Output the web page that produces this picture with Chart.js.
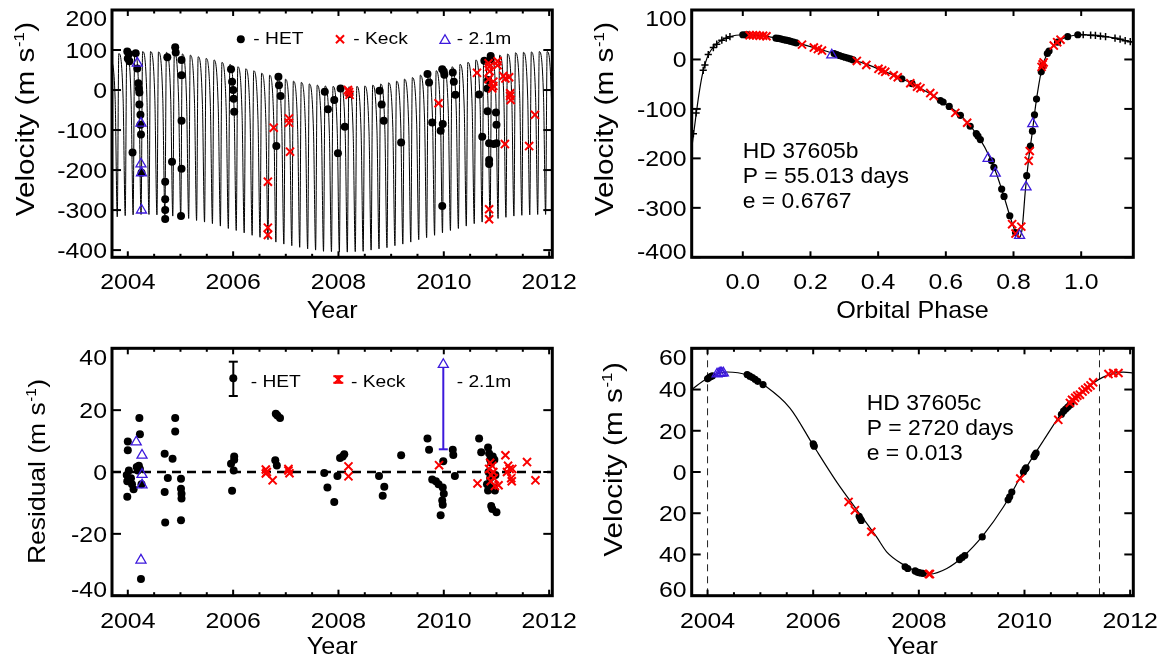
<!DOCTYPE html>
<html><head><meta charset="utf-8">
<script src="https://cdn.jsdelivr.net/npm/chart.js@4.4.1/dist/chart.umd.min.js"></script>
<style>
html,body{margin:0;padding:0;background:#fff;}
#wrap{position:relative;width:1163px;height:660px;background:#fff;overflow:hidden;}
canvas{position:absolute;}
</style></head><body>
<div id="wrap">
<canvas id="c1" width="581" height="330" style="left:0;top:0;width:581px;height:330px"></canvas>
<canvas id="c2" width="582" height="330" style="left:581px;top:0;width:582px;height:330px"></canvas>
<canvas id="c3" width="581" height="330" style="left:0;top:330px;width:581px;height:330px"></canvas>
<canvas id="c4" width="582" height="330" style="left:581px;top:330px;width:582px;height:330px"></canvas>
</div>
<script>
// ---------------- tick labels ----------------
const yearTicks = [2004, 2006, 2008, 2010, 2012];
const yearMinorTicks = [2004.5, 2005, 2005.5, 2006.5, 2007, 2007.5, 2008.5, 2009, 2009.5, 2010.5, 2011, 2011.5];
const phaseTicks = [0, 0.2, 0.4, 0.6, 0.8, 1.0];
const velTicksTL = [-400, -300, -200, -100, 0, 100, 200];
const velTicksTR = [-400, -300, -200, -100, 0, 100];
const residTicks = [-40, -20, 0, 20, 40];
const velTicksBR = [-60, -40, -20, 0, 20, 40, 60];

// ---------------- panel 1: velocity vs year ----------------
const p1ModelYears = [2003.678, 2003.760,
2003.800, 2003.829, 2003.911, 2003.951, 2003.980, 2004.062, 2004.101, 2004.130, 2004.212,
2004.252, 2004.281, 2004.363, 2004.402, 2004.431, 2004.513, 2004.553, 2004.582, 2004.664,
2004.704, 2004.733, 2004.815, 2004.854, 2004.883, 2004.965, 2005.005, 2005.034, 2005.116,
2005.156, 2005.185, 2005.267, 2005.306, 2005.335, 2005.417, 2005.457, 2005.486, 2005.568,
2005.607, 2005.636, 2005.718, 2005.758, 2005.787, 2005.869, 2005.909, 2005.938, 2006.020,
2006.059, 2006.088, 2006.170, 2006.210, 2006.239, 2006.321, 2006.361, 2006.390, 2006.472,
2006.511, 2006.540, 2006.622, 2006.662, 2006.691, 2006.773, 2006.812, 2006.841, 2006.923,
2006.963, 2006.992, 2007.074, 2007.114, 2007.143, 2007.225, 2007.264, 2007.293, 2007.375,
2007.415, 2007.444, 2007.526, 2007.566, 2007.595, 2007.677, 2007.716, 2007.745, 2007.827,
2007.867, 2007.896, 2007.978, 2008.017, 2008.046, 2008.128, 2008.168, 2008.197, 2008.279,
2008.319, 2008.348, 2008.430, 2008.469, 2008.498, 2008.580, 2008.620, 2008.649, 2008.731,
2008.770, 2008.799, 2008.881, 2008.921, 2008.950, 2009.032, 2009.072, 2009.101, 2009.183,
2009.222, 2009.251, 2009.333, 2009.373, 2009.402, 2009.484, 2009.524, 2009.553, 2009.635,
2009.674, 2009.703, 2009.785, 2009.825, 2009.854, 2009.936, 2009.975, 2010.004, 2010.086,
2010.126, 2010.155, 2010.237, 2010.277, 2010.306, 2010.388, 2010.427, 2010.456, 2010.538,
2010.578, 2010.607, 2010.689, 2010.728, 2010.757, 2010.839, 2010.879, 2010.908, 2010.990,
2011.030, 2011.059, 2011.141, 2011.180, 2011.209, 2011.291, 2011.331, 2011.360, 2011.442,
2011.482, 2011.511, 2011.593, 2011.632, 2011.661, 2011.743, 2011.783, 2011.812, 2011.894,
2011.933, 2011.962, 2012.044, 2012.084];
const p1ModelVel = [89, -24,
-317, 91, -22, -314, 93, -20, -312, 95, -19,
-311, 96, -19, -311, 96, -20, -312, 95, -21,
-313, 94, -23, -315, 93, -25, -318, 90, -28,
-321, 87, -33, -326, 83, -36, -330, 79, -41,
-334, 75, -47, -340, 69, -52, -346, 64, -58,
-351, 58, -63, -357, 53, -69, -363, 48, -74,
-368, 42, -80, -374, 37, -85, -380, 31, -90,
-385, 27, -94, -389, 22, -98, -393, 19, -102,
-397, 15, -104, -400, 12, -107, -403, 10, -108,
-404, 9, -109, -405, 8, -109, -405, 8, -108,
-404, 9, -107, -403, 10, -104, -400, 12, -102,
-397, 15, -99, -394, 18, -94, -389, 22, -90,
-385, 27, -85, -380, 31, -80, -374, 37, -75,
-369, 41, -69, -363, 48, -63, -357, 53, -58,
-351, 58, -52, -346, 64, -47, -340, 69, -41,
-334, 75, -36, -330, 79, -33, -326, 83, -28,
-321, 87, -25, -318, 90, -23, -315, 93, -21,
-313, 94, -20, -312, 95, -19, -311, 96, -19,
-311, 96, -20, -312];

const p1HetYears = [2003.99, 2004.02, 2004.00, 2004.03, 2004.15, 2004.18, 2004.20, 2004.21, 2004.22, 2004.22, 2004.24, 2004.24, 2004.25, 2004.09, 2004.26,
  2004.71, 2004.71, 2004.71, 2004.71, 2004.75, 2004.84, 2004.90, 2004.91, 2005.02, 2005.02, 2005.02, 2005.02, 2005.01,
  2005.96, 2005.98, 2006.00, 2006.01, 2006.02, 2006.86, 2006.87, 2006.90, 2006.82,
  2007.74, 2007.80, 2007.92, 2008.04, 2007.99, 2008.12, 2008.21, 2008.78, 2008.82, 2008.86, 2009.19,
  2009.69, 2009.72, 2009.78, 2009.97, 2010.00, 2010.01, 2009.98, 2009.94, 2009.97, 2010.17, 2010.19, 2010.22,
  2010.67, 2010.73, 2010.77, 2010.83, 2010.83, 2010.86, 2010.86, 2010.86, 2010.89, 2010.89, 2010.99, 2011.00, 2011.00, 2010.95, 2010.84];
const p1HetVel = [96, 90, 79, 72, 92, 54, 17, 3, -6, -36, -62, -87, -111, -156, -207,
  -229, -273, -300, -322, 82, -179, 107, 94, 75, 37, -77, -197, -315,
  52, 21, 0, -22, -54, 33, 12, -15, -140,
  -4, -48, -25, 4, -158, -92, -10, -2, -36, -77, -131,
  40, 19, -81, 52, 46, 38, -85, -102, -290, 44, 21, -12,
  -11, -117, 73, 4, -53, -133, -175, -185, 85, 77, -56, -87, -133, -135, 25];
const p1KeckYears = [2006.66, 2006.66, 2006.66, 2006.77, 2007.06, 2007.06, 2007.08, 2008.18, 2008.20, 2008.21, 2009.90,
  2010.63, 2010.85, 2010.86, 2010.87, 2010.85, 2010.94, 2010.94, 2010.92, 2011.02, 2011.02,
  2011.13, 2011.17, 2011.24, 2011.26, 2011.26, 2011.27, 2011.16, 2011.62, 2011.73, 2010.86, 2010.86];
const p1KeckVel = [-229, -344, -362, -94, -71, -82, -154, 0, -5, -12, -33,
  43, 67, 58, 47, 27, 21, 10, 4, 72, 62,
  35, 29, 32, -8, -15, -25, -135, -140, -62, -298, -323];
const p1TriYears = [2004.18, 2004.25, 2004.25, 2004.26, 2004.26];
const p1TriVel = [67, -83, -185, -207, -300];

// ---------------- panel 2: velocity vs orbital phase ----------------
const p2ModelPhase = [-0.150, -0.140, -0.130, -0.120, -0.110, -0.100, -0.080, -0.060, -0.040, -0.020, 0.000, 0.050, 0.100, 0.150, 0.200, 0.250,
  0.300, 0.350, 0.400, 0.450, 0.500, 0.550, 0.600, 0.650, 0.700, 0.730, 0.750, 0.770, 0.790, 0.805, 0.815, 0.825, 0.835, 0.845,
  0.855, 0.865, 0.875, 0.885, 0.900, 0.920, 0.940, 0.960, 0.980, 1.000, 1.050, 1.100, 1.150];
const p2ModelVel = [-175, -122, -72, -32, -6, 12, 30, 40, 46, 49, 50, 48, 43, 35, 26, 16,
  5, -6, -19, -33, -49, -68, -90, -117, -160, -198, -232, -273, -318, -348, -360, -345, -265, -200,
  -150, -95, -50, -15, 12, 30, 40, 46, 49, 50, 48, 43, 35];
const p2HetPhase = [0.000, 0.008, 0.015, 0.098, 0.105, 0.112, 0.120, 0.128, 0.135, 0.142, 0.150, 0.158, 0.270, 0.278, 0.286, 0.294,
  0.302, 0.310, 0.318, 0.326, 0.470, 0.500, 0.584, 0.592, 0.610, 0.643, 0.672, 0.690, 0.695, 0.702, 0.735, 0.742, 0.765, 0.772,
  0.789, 0.806, 0.839, 0.850, 0.856, 0.862, 0.868, 0.882, 0.886, 0.900, 0.905, 0.930, 0.960, 0.990];
const p2HetVel = [50, 50, 50, 43, 42.5, 41.5, 40, 39, 38, 36.5, 35, 33.5, 12, 10, 8, 6,
  4.5, 3, 1, -1, -39, -49, -83, -86, -95, -113, -135, -150, -155, -162, -205, -218, -262, -277,
  -316, -350, -235, -175, -145, -112, -80, -25, -13, 12, 17, 35, 46, 50];
const p2KeckPhase = [0.020, 0.030, 0.040, 0.050, 0.060, 0.070, 0.175, 0.210, 0.222, 0.234, 0.337, 0.365, 0.401, 0.412, 0.421, 0.446, 0.458,
  0.495, 0.515, 0.525, 0.554, 0.564, 0.628, 0.663, 0.796, 0.806, 0.823, 0.845, 0.848, 0.883, 0.886, 0.889, 0.919, 0.929, 0.939];
const p2KeckVel = [49, 49, 49, 48, 48, 47, 30, 24, 21, 18, -3, -11, -19, -22, -25, -32, -36,
  -48, -55, -58, -68, -74, -108, -128, -333, -352, -338, -205, -185, -15, -10, -6, 28, 35, 40];
const p2TriPhase = [0.263, 0.725, 0.746, 0.818, 0.837, 0.857];
const p2TriVel = [9, -200, -230, -356, -258, -130];
const p2WrapPhase = [-0.146, -0.138, -0.117, -0.112, -0.102, -0.087, -0.077, -0.062, -0.049, -0.038,
  1.006, 1.028, 1.042, 1.057, 1.072, 1.100, 1.115, 1.130, 1.145];
const p2WrapVel = [-150, -108, -22, -11, 10, 24, 31, 39, 43, 46,
  50, 49, 48.5, 47, 46, 43, 41, 38, 36];

// ---------------- panel 3: residuals vs year ----------------
const p3HetYears = [2004.00, 2004.00, 2004.02, 2003.98, 2003.99, 2003.99, 2004.06, 2004.08, 2004.11, 2004.17, 2004.19, 2004.21, 2004.23,
  2004.22, 2004.23, 2004.25, 2004.26, 2004.70, 2004.76, 2004.70, 2004.71, 2004.85, 2004.90, 2004.90, 2005.01, 2005.01, 2005.02, 2005.02, 2005.01,
  2005.96, 2006.02, 2006.02, 2006.01, 2005.98, 2006.81, 2006.84, 2006.89, 2006.80, 2006.83,
  2007.73, 2007.79, 2007.92, 2007.98, 2008.03, 2008.11, 2008.08, 2008.77, 2008.87, 2008.84, 2009.19,
  2009.69, 2009.72, 2009.78, 2009.85, 2009.90, 2009.99, 2009.98, 2010.00, 2009.97, 2009.98, 2009.94, 2010.17, 2010.18, 2010.21,
  2010.67, 2010.71, 2010.84, 2010.86, 2010.88, 2010.90, 2010.93, 2010.96, 2010.82, 2010.84, 2010.86, 2010.95, 2010.97,
  2010.90, 2010.92, 2011.00, 2010.85, 2010.88, 2010.98];
const p3HetRes = [9.9, 7, 0.5, -1, -3, -8, -2, -4, -5.6, 1.6, 0.5, 2, 1,
  17.5, 12.2, -34.6, -4, 5.9, -1.9, -6.5, -16.3, 4.3, 17.5, 13.1, -2.2, -5.4, -7, -8.6, -15.6,
  2.7, 5, 4, 0.5, -6.1, 18.8, 18.3, 17.5, 3.8, 2.1,
  -0.3, -5, -9.7, -1.3, 4.5, 5.7, 5, -1.3, -4.8, -7.7, 5.4,
  10.8, 7.2, -2.4, -3, -4, 3.5, -5, -7, -9.2, -10.6, -14, 7.2, 5.5, -1.3,
  10.8, 6.4, 7.9, 6, 4, 3, 5, 4, -4, -6, -5, -5, -6,
  -11, -12, -13, 0, -2, -1];
const p3KeckYears = [2006.62, 2006.64, 2006.62, 2006.75, 2007.05, 2007.07, 2007.05, 2008.19, 2008.19, 2009.91, 2010.64,
  2010.86, 2010.88, 2010.90, 2010.92, 2010.89, 2010.94, 2010.95, 2010.97, 2011.04, 2011.17, 2011.20, 2011.22, 2011.25,
  2011.28, 2011.30, 2011.29, 2011.58, 2011.74];
const p3KeckRes = [0.8, 0, -0.5, -2.7, 0.5, -0.4, 1, 1.8, -1.4, 2.2, -3.7,
  1, 3, -1, 2, -3, 0, -2, -4.5, -4.3, 5.4, 0, 2, 1,
  -2, 1, -3, 3.2, -2.7];
const p3TriYears = [2004.16, 2004.27, 2004.27, 2004.27, 2004.25];
const p3TriRes = [9.7, 5.4, -0.8, -4.2, -28.5];

// ---------------- panel 4: outer planet velocity vs year ----------------
const p4ModelYears = [2003.70, 2004.00, 2004.37, 2004.75, 2005.05, 2005.56, 2006.00, 2006.45, 2006.83, 2007.20, 2007.39, 2007.71,
  2008.02, 2008.21, 2008.53, 2008.84, 2009.22, 2009.60, 2009.98, 2010.36, 2010.74, 2011.12, 2011.49, 2011.87, 2012.06];
const p4ModelVel = [40, 45.5, 48.5, 47, 42.5, 31, 13, -5, -18.5, -31.5, -38.7, -45,
  -48.7, -49.5, -46.8, -41, -30.6, -17, 0, 15.3, 29.8, 39.5, 46, 48.4, 48];
const p4HetYears = [2004.00, 2004.03, 2004.06, 2004.09, 2004.75, 2004.80, 2004.85, 2004.90, 2004.95, 2005.05,
  2006.00, 2006.01, 2006.02, 2006.87, 2006.89, 2006.91, 2007.74, 2007.79, 2007.93, 2007.97, 2008.00, 2008.04, 2008.08,
  2008.77, 2008.82, 2008.87, 2009.20, 2009.69, 2009.72, 2009.76, 2009.98, 2010.01, 2010.03, 2010.18, 2010.20, 2010.22,
  2010.70, 2010.74, 2010.78, 2010.82, 2010.86, 2010.88];
const p4HetVel = [45.2, 45.8, 46.3, 46.6, 47.3, 46.5, 45.8, 45, 44, 42.4,
  13.7, 13, 12.5, -21.5, -22.6, -23.5, -46, -46.8, -48, -48.5, -48.8, -49, -49.2,
  -42.5, -41.5, -40.5, -31.5, -13.5, -12, -9.7, 0, 1.3, 2, 7.5, 8.5, 9.2,
  28, 29.5, 30.5, 31.5, 32.5, 33];
const p4KeckYears = [2006.67, 2006.79, 2007.10, 2008.19, 2008.21, 2009.92, 2010.64, 2010.86, 2010.90, 2010.93, 2010.96, 2011.00,
  2011.05, 2011.10, 2011.15, 2011.20, 2011.25, 2011.30, 2011.59, 2011.68, 2011.78];
const p4KeckVel = [-14.5, -18.5, -29, -49.5, -49.5, -3.2, 25.3, 33.5, 35, 34.5, 36, 37,
  37.5, 39, 40, 41, 42, 43.5, 47.5, 48, 48];
const p4TriYears = [2004.18, 2004.22, 2004.25, 2004.27, 2004.30];
const p4TriVel = [47.5, 47.8, 48, 48, 48];
const p4MarkerYears = [2004.0, 2011.42];

// ---------------- styling ----------------
const FONT = "'Liberation Sans', Arial, Helvetica, sans-serif";
const RED = 'rgb(250,0,0)';
const BLUE = 'rgb(60,25,220)';

function pts(xs, ys) {
  const n = Math.min(xs.length, ys.length), out = [];
  for (let i = 0; i < n; i++) out.push({ x: xs[i], y: ys[i] });
  return out;
}
function dsCurve(data, w) {
  return { data, showLine: true, pointRadius: 0, borderColor: '#000', borderWidth: w || 1.2, cubicInterpolationMode: 'monotone', fill: false, order: 10 };
}
function dsHet(data, r) {
  return { data, showLine: false, pointStyle: 'circle', pointRadius: r, pointBackgroundColor: '#000', pointBorderColor: '#000', pointBorderWidth: 0, order: 3 };
}
function dsKeck(data) {
  return { data, showLine: false, pointStyle: 'crossRot', pointRadius: 5.7, pointBorderColor: RED, pointBackgroundColor: RED, pointBorderWidth: 2, order: 2 };
}
function dsTri(data) {
  return { data, showLine: false, pointStyle: 'triangle', pointRadius: 5.8, pointBorderColor: BLUE, pointBackgroundColor: 'rgba(0,0,0,0)', pointBorderWidth: 1.3, order: 1 };
}
function dsWrap(data) {
  return { data, showLine: false, pointStyle: 'cross', pointRadius: 3.6, pointBorderColor: '#000', pointBorderWidth: 1.5, order: 4 };
}

function txt(ctx, s, x, y, size, align, hs) {
  ctx.save();
  ctx.font = size + 'px ' + FONT;
  ctx.textAlign = align || 'left';
  ctx.textBaseline = 'alphabetic';
  ctx.fillStyle = '#000';
  ctx.translate(x, y); ctx.scale(hs || 1, 1);
  ctx.fillText(s, 0, 0);
  ctx.restore();
}
function yTitle(ctx, parts, bx, cy, size, sup, hs) {
  ctx.save();
  ctx.translate(bx, cy); ctx.rotate(-Math.PI / 2); ctx.scale(hs, 1);
  ctx.fillStyle = '#000'; ctx.textBaseline = 'alphabetic'; ctx.textAlign = 'left';
  ctx.font = size + 'px ' + FONT;
  const w1 = ctx.measureText(parts[0]).width, w3 = ctx.measureText(parts[2]).width;
  ctx.font = sup + 'px ' + FONT;
  const w2 = ctx.measureText(parts[1]).width;
  let x = -(w1 + w2 + w3) / 2;
  ctx.font = size + 'px ' + FONT; ctx.fillText(parts[0], x, 0); x += w1;
  ctx.font = sup + 'px ' + FONT; ctx.fillText(parts[1], x + 0.5, -0.38 * size); x += w2 + 1;
  ctx.font = size + 'px ' + FONT; ctx.fillText(parts[2], x, 0);
  ctx.restore();
}
function line(ctx, x1, y1, x2, y2) { ctx.beginPath(); ctx.moveTo(x1, y1); ctx.lineTo(x2, y2); ctx.stroke(); }
function symDot(ctx, x, y, r) { ctx.fillStyle = '#000'; ctx.beginPath(); ctx.arc(x, y, r, 0, Math.PI * 2); ctx.fill(); }
function symX(ctx, x, y, r) { const d = r * Math.SQRT1_2; ctx.strokeStyle = RED; ctx.lineWidth = 2; line(ctx, x - d, y - d, x + d, y + d); line(ctx, x - d, y + d, x + d, y - d); }
function symTri(ctx, x, y, r) {
  ctx.strokeStyle = BLUE; ctx.lineWidth = 1.3; ctx.beginPath();
  ctx.moveTo(x, y - r); ctx.lineTo(x + 0.866 * r, y + 0.5 * r); ctx.lineTo(x - 0.866 * r, y + 0.5 * r); ctx.closePath(); ctx.stroke();
}

const velTitle = ['Velocity (m s', '-1', ')'];
const panelCfg = {
  c1: { xMajor: yearTicks, xMinor: yearMinorTicks, xFmt: v => String(v), yMajor: velTicksTL, yFmt: v => String(v),
        xTitle: 'Year', xTitleDy: 61, yTitle: velTitle, yTitleDx: 78.5, yTitleDy: -14, yTitleSize: 25, yTitleHs: 1.19, legend: 'top' },
  c2: { xMajor: phaseTicks, xMinor: [], xFmt: v => v.toFixed(1), yMajor: velTicksTR, yFmt: v => String(v),
        xTitle: 'Orbital Phase', xTitleDy: 61, yTitle: velTitle, yTitleDx: 78.4, yTitleDy: -14, yTitleSize: 25, yTitleHs: 1.19,
        notes: { x: 161.7, y: [158.3, 183.3, 208], lines: ['HD 37605b', 'P = 55.013 days', 'e = 0.6767'] } },
  c3: { xMajor: yearTicks, xMinor: yearMinorTicks, xFmt: v => String(v), yMajor: residTicks, yFmt: v => String(v),
        xTitle: 'Year', xTitleDy: 58, yTitle: ['Residual (m s', '-1', ')'], yTitleDx: 67, yTitleDy: 0, yTitleSize: 24.5, yTitleHs: 1.08,
        legend: 'resid', zeroLine: true },
  c4: { xMajor: yearTicks, xMinor: yearMinorTicks, xFmt: v => String(v), yMajor: velTicksBR, yFmt: v => String(Math.abs(v)),
        xTitle: 'Year', xTitleDy: 58, yTitle: velTitle, yTitleDx: 70, yTitleDy: -12, yTitleSize: 25, yTitleHs: 1.19, vLines: p4MarkerYears,
        notes: { x: 285.7, y: [80, 105.3, 130], lines: ['HD 37605c', 'P = 2720 days', 'e = 0.013'] } }
};

const idlPlugin = {
  id: 'idlAxes',
  beforeDatasetsDraw(chart) {
    const cfg = panelCfg[chart.canvas.id], ctx = chart.ctx, a = chart.chartArea;
    const xs = chart.scales.x, ys = chart.scales.y;
    ctx.save();
    ctx.strokeStyle = '#000';
    if (cfg.zeroLine) {
      ctx.lineWidth = 2.6; ctx.setLineDash([9, 6]);
      const py = ys.getPixelForValue(0);
      line(ctx, a.left, py, a.right, py);
    }
    if (cfg.vLines) {
      ctx.lineWidth = 1; ctx.setLineDash([7, 5]); ctx.strokeStyle = '#222';
      for (const v of cfg.vLines) { const px = xs.getPixelForValue(v); line(ctx, px, a.top, px, a.bottom); }
    }
    ctx.restore();
  },
  afterDatasetsDraw(chart) {
    const cfg = panelCfg[chart.canvas.id], ctx = chart.ctx, a = chart.chartArea;
    const xs = chart.scales.x, ys = chart.scales.y;
    ctx.save();
    ctx.strokeStyle = '#000'; ctx.lineWidth = 2; ctx.setLineDash([]);
    for (const v of cfg.xMajor) {
      const px = xs.getPixelForValue(v);
      line(ctx, px, a.bottom, px, a.bottom - 6); line(ctx, px, a.top, px, a.top + 6);
    }
    for (const v of cfg.xMinor) {
      const px = xs.getPixelForValue(v);
      line(ctx, px, a.bottom, px, a.bottom - 3.5); line(ctx, px, a.top, px, a.top + 3.5);
    }
    for (const v of cfg.yMajor) {
      const py = ys.getPixelForValue(v);
      line(ctx, a.left, py, a.left + 9, py); line(ctx, a.right, py, a.right - 9, py);
    }
    ctx.lineWidth = 3; ctx.lineJoin = 'miter';
    ctx.strokeRect(a.left, a.top, a.right - a.left, a.bottom - a.top);
    // tick labels
    for (const v of cfg.xMajor) {
      const px = xs.getPixelForValue(v);
      txt(ctx, cfg.xFmt(v), px, a.bottom + 32, 22, 'center', 1.13);
    }
    for (const v of cfg.yMajor) {
      let py = ys.getPixelForValue(v);
      py = Math.min(Math.max(py, a.top + 8.5), a.bottom - 6.5);
      txt(ctx, cfg.yFmt(v), a.left - 5, py + 7.9, 22, 'right', 1.13);
    }
    // titles
    txt(ctx, cfg.xTitle, (a.left + a.right) / 2, a.bottom + cfg.xTitleDy, 24, 'center', 1.05);
    yTitle(ctx, cfg.yTitle, a.left - cfg.yTitleDx, (a.top + a.bottom) / 2 + cfg.yTitleDy, cfg.yTitleSize, 14, cfg.yTitleHs);
    // notes
    if (cfg.notes) cfg.notes.lines.forEach((s, i) => txt(ctx, s, cfg.notes.x, cfg.notes.y[i], 21.5, 'left', 1.065));
    // legends
    if (cfg.legend === 'top') {
      symDot(ctx, 240.8, 39.2, 4);
      txt(ctx, '- HET', 253.3, 44.3, 17, 'left', 1.13);
      symX(ctx, 340, 39.2, 5.7);
      txt(ctx, '- Keck', 353.3, 44.3, 17, 'left', 1.13);
      symTri(ctx, 445, 40.5, 5.8);
      txt(ctx, '- 2.1m', 456.7, 44.3, 17, 'left', 1.13);
    } else if (cfg.legend === 'resid') {
      ctx.strokeStyle = '#000'; ctx.lineWidth = 2;
      line(ctx, 233.3, 31.7, 233.3, 66); line(ctx, 228.8, 31.7, 237.8, 31.7); line(ctx, 228.8, 66, 237.8, 66);
      symDot(ctx, 233.3, 48.3, 4);
      txt(ctx, '- HET', 250.7, 56.7, 17, 'left', 1.13);
      ctx.strokeStyle = RED; ctx.lineWidth = 2;
      line(ctx, 333.3, 46.2, 343.3, 46.2); line(ctx, 333.3, 52.8, 343.3, 52.8); line(ctx, 338.3, 46.2, 338.3, 52.8);
      symX(ctx, 338.3, 49.5, 5.2);
      txt(ctx, '- Keck', 351, 56.7, 17, 'left', 1.13);
      ctx.strokeStyle = BLUE; ctx.lineWidth = 2;
      line(ctx, 443.3, 37.5, 443.3, 119.3); line(ctx, 438.8, 119.3, 447.8, 119.3);
      symTri(ctx, 443.3, 34.5, 5.8);
      txt(ctx, '- 2.1m', 456.7, 56.7, 17, 'left', 1.13);
    }
    ctx.restore();
  }
};

function makeChart(id, datasets, xr, yr, pad) {
  return new Chart(document.getElementById(id), {
    type: 'scatter',
    data: { datasets },
    options: {
      responsive: false, animation: false, events: [],
      layout: { padding: pad },
      plugins: { legend: { display: false }, tooltip: { enabled: false }, title: { display: false } },
      scales: {
        x: { type: 'linear', min: xr[0], max: xr[1], display: false },
        y: { type: 'linear', min: yr[0], max: yr[1], display: false }
      }
    },
    plugins: [idlPlugin]
  });
}

makeChart('c1', [
  dsTri(pts(p1TriYears, p1TriVel)),
  dsKeck(pts(p1KeckYears, p1KeckVel)),
  dsHet(pts(p1HetYears, p1HetVel), 4),
  dsCurve(pts(p1ModelYears, p1ModelVel), 1.0)
], [2003.70, 2012.06], [-418, 200], { left: 112, top: 10, right: 28.7, bottom: 72.7 });

makeChart('c2', [
  dsTri(pts(p2TriPhase, p2TriVel)),
  dsKeck(pts(p2KeckPhase, p2KeckVel)),
  dsHet(pts(p2HetPhase, p2HetVel), 3.6),
  dsWrap(pts(p2WrapPhase, p2WrapVel)),
  dsCurve(pts(p2ModelPhase, p2ModelVel), 1.2)
], [-0.151, 1.154], [-400, 100], { left: 110.7, top: 10, right: 29.7, bottom: 72.7 });

makeChart('c3', [
  dsTri(pts(p3TriYears, p3TriRes)),
  dsKeck(pts(p3KeckYears, p3KeckRes)),
  dsHet(pts(p3HetYears, p3HetRes), 4)
], [2003.70, 2012.06], [-40, 40], { left: 112, top: 18.3, right: 28.7, bottom: 64.3 });

makeChart('c4', [
  dsTri(pts(p4TriYears, p4TriVel)),
  dsKeck(pts(p4KeckYears, p4KeckVel)),
  dsHet(pts(p4HetYears, p4HetVel), 3.6),
  dsCurve(pts(p4ModelYears, p4ModelVel), 1.2)
], [2003.70, 2012.06], [-60, 60], { left: 110.7, top: 18.3, right: 29.7, bottom: 64.3 });
</script>
</body></html>
